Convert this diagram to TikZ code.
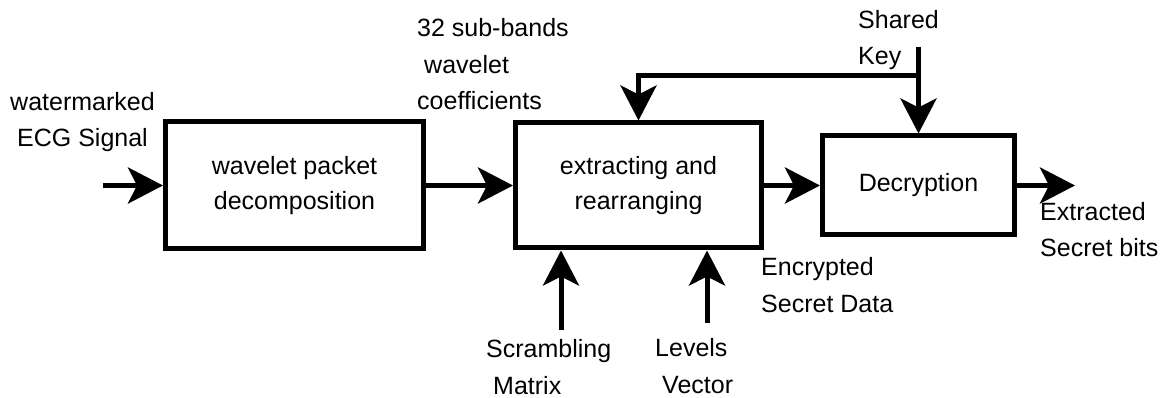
\documentclass[tikz,border=0pt]{standalone}
\usepackage{fontspec}
\setmainfont{Liberation Sans}
\usetikzlibrary{arrows.meta}

\begin{document}
\begin{tikzpicture}[x=1pt,y=-1pt,
  block/.style={draw, line width=5pt, align=center, font=\fontsize{25}{35}\selectfont},
  lbl/.style={anchor=base west, align=left, inner sep=0pt, font=\fontsize{25}{36.5}\selectfont},
  flow/.style={line width=5pt, -{Stealth[length=35pt,width=36pt,inset=9pt]}}]
\useasboundingbox (0,0) rectangle (1170,398);
\node [block, minimum width=258pt, minimum height=127pt] (wpd) at (294.5,185.5) {wavelet packet\\decomposition};
\node [block, minimum width=246pt, minimum height=125pt] (extract) at (638.5,185.5) {extracting and\\rearranging};
\node [block, minimum width=192pt, minimum height=99pt] (decrypt) at (918.5,185.5) {Decryption};
\coordinate (in) at (103,185.5);
\coordinate (out) at (1075,185.5);
\coordinate (key) at (918.5,47);
\coordinate (fb) at (918.5,76);
\coordinate (scr) at (561,330);
\coordinate (lev) at (707,323);
\draw [flow] (in) -- (wpd);
\draw [flow] (wpd) -- (extract);
\draw [flow] (extract) -- (decrypt);
\draw [flow] (decrypt) -- (out);
\draw [flow] (key) -- (decrypt);
\draw [flow] (fb) -- (extract.north |- fb) -- (extract.north);
\draw [flow] (scr) -- (scr |- extract.south);
\draw [flow] (lev) -- (lev |- extract.south);
\node [lbl] (inlbl) at (10,147) {watermarked\\\hspace*{7pt}ECG Signal};
\node [lbl] (coeflbl) at (417,110) {32 sub-bands\\\hspace*{7pt}wavelet\\coefficients};
\node [lbl] (keylbl) at (858,65) {Shared\\Key};
\node [lbl] (enclbl) at (761,312) {Encrypted\\Secret Data};
\node [lbl] (outlbl) at (1040,257) {Extracted\\Secret bits};
\node [lbl] (scrlbl) at (486,394) {Scrambling\\\hspace*{7pt}Matrix};
\node [lbl] (levlbl) at (655,393) {Levels\\\hspace*{7pt}Vector};
\end{tikzpicture}
\end{document}
